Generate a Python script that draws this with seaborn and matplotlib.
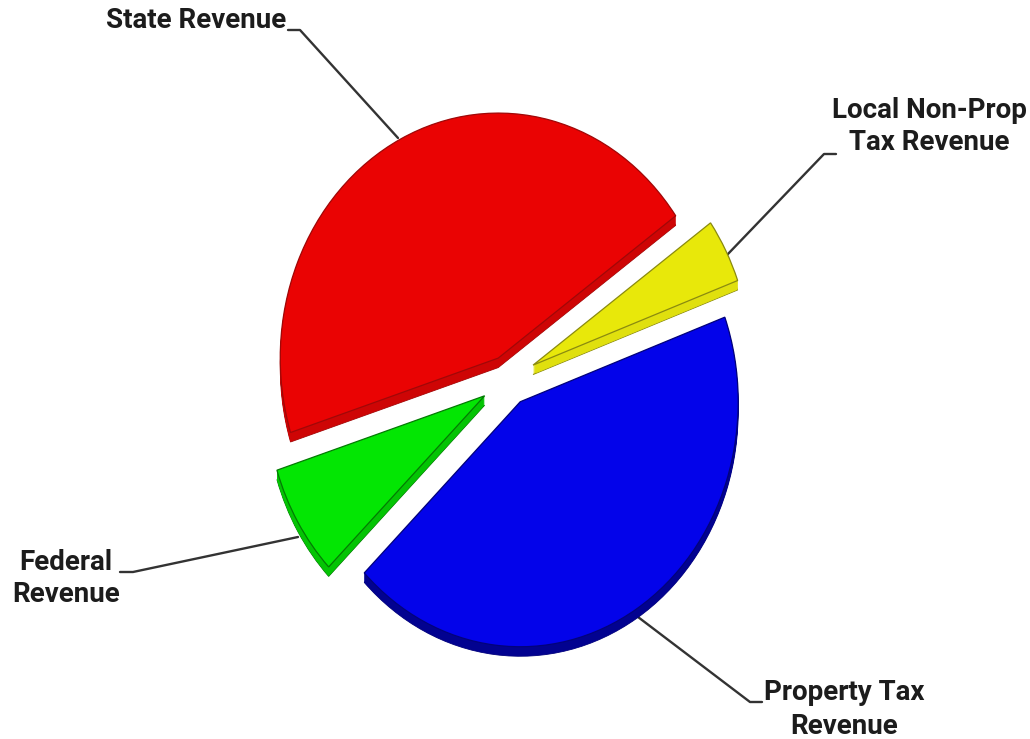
import matplotlib
matplotlib.use("Agg")
import matplotlib.pyplot as plt
import seaborn as sns

# Revenue shares, in percent
sources = ["State Revenue", "Federal Revenue", "Property Tax Revenue", "Local Non-Prop Tax Revenue"]
shares = [45.05, 7.4, 43.3, 4.25]
gaps = [0.10, 0.125, 0.105, 0.13]

top_colors = ["#EA0303", "#03E603", "#0303EA", "#E8E80A"]
side_colors = ["#CE0505", "#04C404", "#020290", "#E0E00E"]
edge_colors = ["#A00808", "#047A04", "#02027A", "#8A8A10"]

sns.set_theme(style="white")
plt.rcParams["font.family"] = ["Roboto", "Liberation Sans", "DejaVu Sans"]

W, H = 1030, 739
CX, CY = 508, 380     # pie centre in pixels
RX, RY = 218, 245     # tilted pie radii in pixels
DEPTH = 9.5           # slab thickness in pixels
LAYERS = 20

fig = plt.figure(figsize=(W / 100, H / 100), dpi=100)
ax = fig.add_axes([0, 0, 1, 1])


def draw_layer(offset, colors, edges, lw):
    wedges, _ = ax.pie(
        shares, explode=gaps, colors=colors, startangle=35.5, counterclock=True,
        radius=1, center=(0, -offset / RY),
        wedgeprops=dict(linewidth=lw, edgecolor="none"),
    )
    for w, e in zip(wedges, edges):
        if e is not None:
            w.set_edgecolor(e)
    return wedges


# Slab sides, stacked from the bottom up, then the top faces
draw_layer(DEPTH, side_colors, edge_colors, 0.6)
for k in range(LAYERS - 1, 0, -1):
    draw_layer(DEPTH * k / LAYERS, side_colors, [None] * 4, 0)
draw_layer(0, top_colors, edge_colors, 0.9)

ax.set_aspect("auto")
ax.set_xlim(-CX / RX, (W - CX) / RX)
ax.set_ylim(-(H - CY) / RY, CY / RY)
ax.axis("off")


def fx(x, y):
    return x / W, 1 - y / H


# Leader lines, drawn in figure pixels
leaders = [
    [(288, 30), (300, 30), (398, 138)],
    [(836, 154), (824, 154), (727, 255)],
    [(120, 572), (133, 572), (298, 537)],
    [(638, 617), (750, 702), (762, 702)],
]
for pts in leaders:
    xs, ys = zip(*[fx(*p) for p in pts])
    ax.plot(xs, ys, transform=fig.transFigure, color="#333333", lw=1.7, zorder=0.5, clip_on=False)

labels = [
    ("State Revenue", 196, 20),
    ("Local Non-Prop", 929, 111),
    ("Tax Revenue", 929, 143),
    ("Federal", 66, 562),
    ("Revenue", 66, 595),
    ("Property Tax", 844, 693),
    ("Revenue", 844, 726),
]
for text, x, y in labels:
    fx_, fy_ = fx(x, y)
    fig.text(fx_, fy_, text, ha="center", va="center", fontsize=20,
             fontweight="bold", color="#1c1c1c")

fig.savefig("out.png", dpi=100, facecolor="white")
